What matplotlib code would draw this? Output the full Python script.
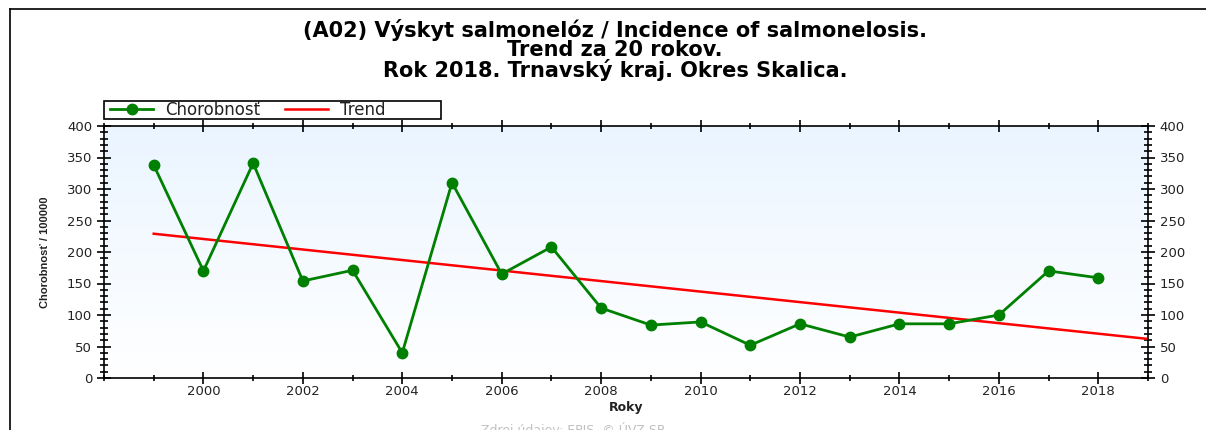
import numpy as np
import matplotlib.pyplot as plt
from matplotlib.lines import Line2D
from matplotlib.patches import Rectangle
from matplotlib.ticker import MultipleLocator, FixedLocator

plt.rcParams['font.family'] = ['DejaVu Sans']

years = [1999, 2000, 2001, 2002, 2003, 2004, 2005, 2006, 2007, 2008,
         2009, 2010, 2011, 2012, 2013, 2014, 2015, 2016, 2017, 2018]
incidence = [338, 170, 341, 154, 171, 40, 310, 165, 208, 111,
             84, 89, 52, 86, 65, 86, 86, 100, 170, 159]
trend_years = [1999, 2019]
trend_values = [229, 62]
year_labels = [2000, 2002, 2004, 2006, 2008, 2010, 2012, 2014, 2016, 2018]
title_lines = ["(A02) Výskyt salmonelóz / Incidence of salmonelosis.",
               "Trend za 20 rokov.",
               "Rok 2018. Trnavský kraj. Okres Skalica."]

GREEN = "#008000"
RED = "#FF0000"
TEXT = "#222222"
W, H = 1206, 430

fig = plt.figure(figsize=(W / 100, H / 100), dpi=100)
fig.patch.set_facecolor("white")

# outer frame of the picture
fig.add_artist(Line2D([10 / W, 1.0], [1 - 9 / H, 1 - 9 / H], color="black", lw=1.2))
fig.add_artist(Line2D([10 / W, 10 / W], [0, 1 - 9 / H], color="black", lw=1.2))

ax = fig.add_axes([104 / W, 52 / H, (1148 - 104) / W, 252 / H])

# light blue to white background
grad = np.linspace(1, 0, 256).reshape(-1, 1)
top = np.array([0.92, 0.96, 1.0])
bottom = np.array([1.0, 1.0, 1.0])
img = bottom + (top - bottom) * grad[..., None]
ax.imshow(img, extent=[1998, 2019, 0, 400], aspect="auto", zorder=0)

ax.plot(years, incidence, color=GREEN, lw=2, marker="o", ms=7.5, zorder=3, label="Chorobnosť")
ax.plot(trend_years, trend_values, color=RED, lw=1.8, zorder=2, label="Trend")

ax.set_xlim(1998, 2019)
ax.set_ylim(0, 400)
ax.xaxis.set_major_locator(FixedLocator(year_labels))
ax.xaxis.set_minor_locator(MultipleLocator(1))
ax.yaxis.set_major_locator(MultipleLocator(50))
ax.yaxis.set_minor_locator(MultipleLocator(10))

ax.tick_params(axis="both", which="both", direction="inout", colors="black",
               labelcolor=TEXT, labelsize=9.5, top=True, right=True, labelright=True)
ax.tick_params(axis="x", which="major", length=8, width=1.2, pad=1)
ax.tick_params(axis="x", which="minor", length=5, width=1.2)
ax.tick_params(axis="y", which="major", length=10, width=1.2)
ax.tick_params(axis="y", which="minor", length=6, width=1.2)
for spine in ax.spines.values():
    spine.set_color("black")
    spine.set_linewidth(1.2)

ax.set_xlabel("Roky", fontsize=9, fontweight="bold", color=TEXT, labelpad=2)
ax.set_ylabel("Chorobnosť / 100000", fontsize=8, fontweight="bold", color=TEXT, labelpad=12,
              family="Liberation Sans")

# legend box above the plot, entries placed without their own frame
ax.add_patch(Rectangle((0, 1.028), 337 / 1044, 18 / 252, transform=ax.transAxes,
                       facecolor="white", edgecolor="black", lw=1.2, clip_on=False, zorder=5))
leg = ax.legend(loc="center left", bbox_to_anchor=(6 / 1044, 1.028 + 9 / 252),
                ncol=2, fontsize=12, frameon=False, borderpad=0, borderaxespad=0,
                handlelength=2.6, handletextpad=0.7, columnspacing=1.5)
leg.set_zorder(6)
for t in leg.get_texts():
    t.set_color(TEXT)

for i, line in enumerate(title_lines):
    fig.text(615 / W, 1 - (30 + 20 * i) / H, line, ha="center", va="center",
             fontsize=15, fontweight="bold", color="black")

fig.text(573 / W, 1 - 422 / H, "Zdroj údajov: EPIS, © ÚVZ SR", ha="center", va="top",
         fontsize=9, color="#C0C0C0")

fig.savefig("out.png", dpi=100, facecolor="white")
